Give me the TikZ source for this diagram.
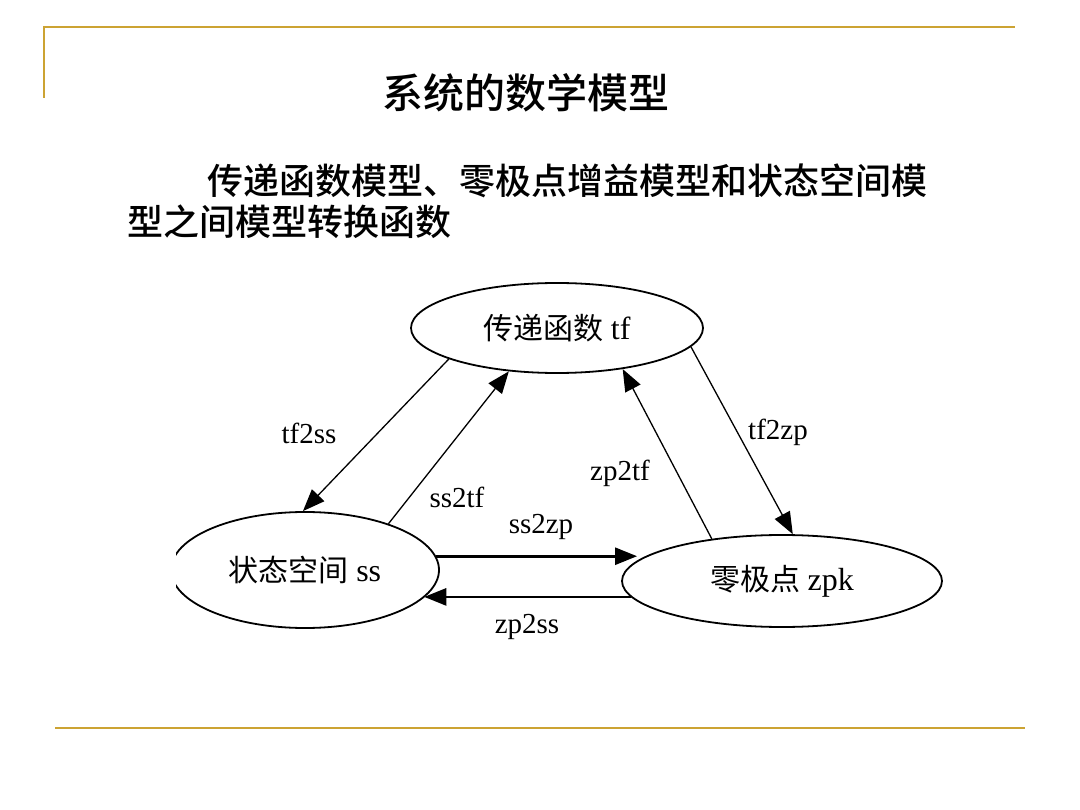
\documentclass[tikz,border=0pt]{standalone}
\usepackage{fontspec}
\setmainfont{Liberation Serif}
\newfontfamily\cjk{Noto Sans CJK SC}
\newfontfamily\cjkhei{Noto Sans CJK SC}[UprightFont=* Medium]
\usetikzlibrary{shapes.geometric,arrows.meta}
\definecolor{slidegold}{RGB}{204,163,51}

\begin{document}
\begin{tikzpicture}[x=1pt,y=-1pt,
    model/.style={ellipse, draw, line width=1.8pt, inner sep=0pt, font=\fontsize{30}{36}\selectfont},
    conv/.style={-{Triangle[length=22pt,width=17pt]}, line width=1.3pt},
    convthick/.style={conv, line width=2.6pt},
    lbl/.style={font=\fontsize{29}{34}\selectfont, inner sep=0pt}]
\useasboundingbox (0,0) rectangle (1080,810);
\draw[slidegold, line width=2pt] (44,98) -- (44,27) -- (1015,27);
\draw[slidegold, line width=2pt] (55,728) -- (1025,728);
\node (title) at (526,93) {\fontsize{41}{48}\selectfont\cjkhei 系统的数学模型};
\node[anchor=base west, inner sep=0pt] (sub1) at (207,195) {\fontsize{36}{41}\selectfont\cjkhei 传递函数模型、零极点增益模型和状态空间模};
\node[anchor=base west, inner sep=0pt] (sub2) at (127,236) {\fontsize{36}{41}\selectfont\cjkhei 型之间模型转换函数};
\begin{scope}
  \clip (176,0) rectangle (1080,810);
  \node[model, minimum width=268pt, minimum height=116pt] (ss) at (305,570) {{\cjk 状态空间} {\fontsize{32}{36}\selectfont ss}};
\end{scope}
\node[model, minimum width=292pt, minimum height=90pt] (tf) at (557,328) {{\cjk 传递函数} {\fontsize{32}{36}\selectfont tf}};
\node[model, minimum width=320pt, minimum height=92pt] (zpk) at (782,581) {{\cjk 零极点} {\fontsize{32}{36}\selectfont zpk}};
\draw[conv] (tf.196) -- (ss.92);
\draw[conv] (ss.29) -- (tf.222);
\draw[conv] (tf.352) -- (zpk.77);
\draw[conv] (zpk.149) -- (tf.328);
\draw[convthick] (ss.6) -- (ss.6 -| zpk.172);
\draw[convthick] (zpk.186) -- (zpk.186 -| ss.347);
\node[lbl] (l-tf2ss) at (309,433) {tf2ss};
\node[lbl] (l-ss2tf) at (457,497) {ss2tf};
\node[lbl] (l-tf2zp) at (778,432) {tf2zp};
\node[lbl] (l-zp2tf) at (620,473) {zp2tf};
\node[lbl] (l-ss2zp) at (541,527) {ss2zp};
\node[lbl] (l-zp2ss) at (527,627) {zp2ss};
\end{tikzpicture}
\end{document}
